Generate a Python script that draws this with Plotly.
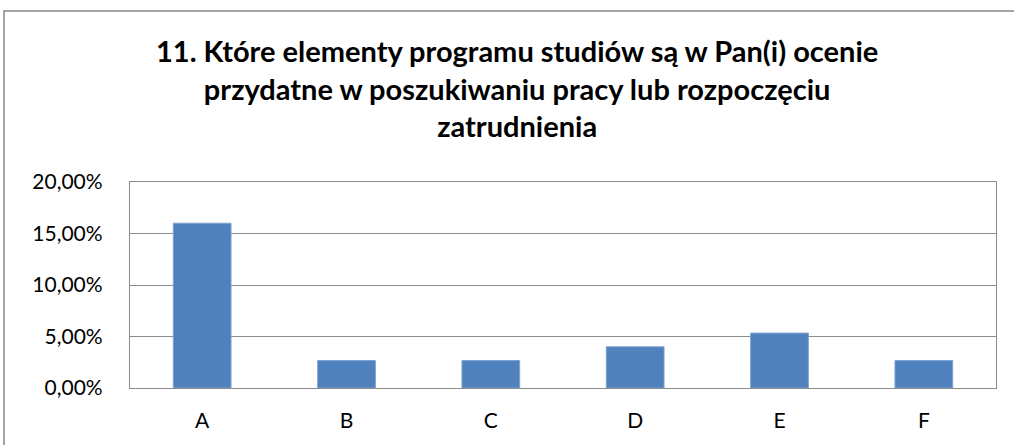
import plotly.graph_objects as go

categories = ["A", "B", "C", "D", "E", "F"]
values = [0.16, 0.0267, 0.0267, 0.04, 0.0533, 0.0267]
y_ticks = [0, 0.05, 0.10, 0.15, 0.20]
title_text = ("<b>11. Które elementy programu studiów są w Pan(i) ocenie<br>"
              "przydatne w poszukiwaniu pracy lub rozpoczęciu<br>zatrudnienia</b>")

W, H = 1014, 445
L, R, T, B = 130, 18, 182, 57
pw = W - L - R
ph = H - T - B

def px_x(px):
    return (px - L) / pw

def px_y(py):
    return (H - B - py) / ph

fig = go.Figure(go.Bar(
    x=categories, y=values,
    marker=dict(color="#4F81BD", line=dict(color="#7FA3D3", width=1)),
    width=0.4,
))

fig.update_layout(
    width=W, height=H,
    margin=dict(l=L, r=R, t=T, b=B),
    paper_bgcolor="white", plot_bgcolor="white",
    separators=", ",
    font=dict(family="Lato, Carlito, sans-serif", color="#000000", size=20),
    showlegend=False,
    annotations=[dict(
        text=title_text, xref="paper", yref="paper",
        x=px_x(517), y=px_y(31), xanchor="center", yanchor="top",
        showarrow=False, font=dict(size=29, family="Lato, sans-serif"),
        align="center",
    )],
    shapes=[dict(
        type="rect", xref="paper", yref="paper",
        x0=px_x(4), x1=px_x(1100), y0=px_y(11), y1=px_y(600),
        line=dict(color="#878787", width=1.5), layer="below",
    )],
)

fig.update_yaxes(
    range=[0, 0.20], tickvals=y_ticks, tickformat=".2%",
    showgrid=True, gridcolor="#8C8C8C", gridwidth=1.3,
    showline=True, linecolor="#8C8C8C", linewidth=1.3, mirror=True,
    ticks="", zeroline=False, ticklabelstandoff=22, tickfont=dict(size=21),
)
fig.update_xaxes(
    showgrid=False, showline=True, linecolor="#8C8C8C", linewidth=1.3,
    mirror=True, ticks="", tickfont=dict(size=21), ticklabelstandoff=14,
)

fig.write_html("out.html", config={"displayModeBar": False},
               post_script="document.body.style.margin='0';")
